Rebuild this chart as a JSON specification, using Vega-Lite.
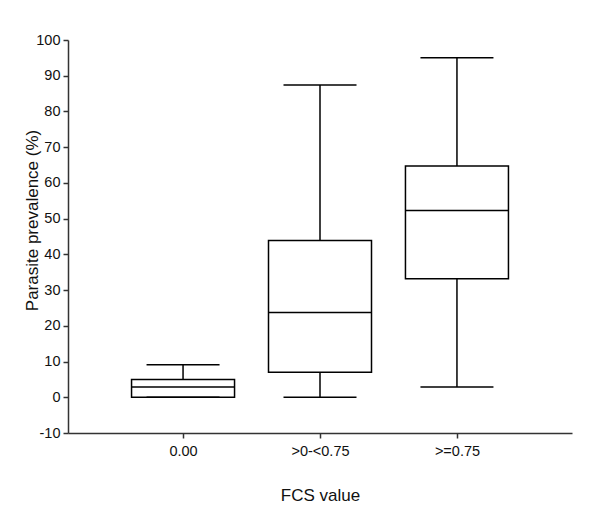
{
  "$schema": "https://vega.github.io/schema/vega-lite/v6.json",
  "autosize": {"type": "none"},
  "padding": {"left": 68, "top": 40, "right": 28, "bottom": 91},
  "width": 504,
  "height": 393,
  "background": "white",
  "config": {
    "view": {"stroke": null},
    "font": "Liberation Sans",
    "axis": {
      "domainColor": "#333333",
      "domainWidth": 1.5,
      "tickColor": "#333333",
      "tickWidth": 1.5,
      "tickSize": 5,
      "labelColor": "#111111",
      "titleColor": "#111111",
      "labelFont": "Liberation Sans",
      "titleFont": "Liberation Sans",
      "titleFontSize": 17,
      "titleFontWeight": "normal",
      "grid": false
    }
  },
  "data": {
    "values": [
      {"fcs": "0.00", "min": 0, "q1": 0, "median": 2.9, "q3": 5.0, "max": 9.1},
      {"fcs": ">0-<0.75", "min": 0, "q1": 7.0, "median": 23.7, "q3": 43.9, "max": 87.4},
      {"fcs": ">=0.75", "min": 2.9, "q1": 33.2, "median": 52.3, "q3": 64.7, "max": 95.0}
    ]
  },
  "encoding": {
    "x": {
      "field": "fcs",
      "type": "nominal",
      "sort": null,
      "scale": {"type": "point", "padding": 0.84},
      "axis": {"title": "FCS value", "labelAngle": 0, "labelFontSize": 14.5, "labelPadding": 6, "titlePadding": 30}
    }
  },
  "layer": [
    {
      "mark": {"type": "rule", "color": "black", "strokeWidth": 1.5},
      "encoding": {
        "y": {
          "field": "min",
          "type": "quantitative",
          "scale": {"domain": [-10, 100], "nice": false, "zero": false},
          "axis": {
            "title": "Parasite prevalence (%)",
            "values": [-10, 0, 10, 20, 30, 40, 50, 60, 70, 80, 90, 100],
            "tickCount": 20,
            "labelExpr": "'' + datum.value",
            "labelOverlap": false,
            "labelFontSize": 14.5,
            "labelPadding": 3,
            "titleX": -36,
            "titleY": 180,
            "titleAngle": -90,
            "titleAlign": "center",
            "titleBaseline": "middle"
          }
        },
        "y2": {"field": "q1"}
      }
    },
    {
      "mark": {"type": "rule", "color": "black", "strokeWidth": 1.5},
      "encoding": {
        "y": {"field": "q3", "type": "quantitative"},
        "y2": {"field": "max"}
      }
    },
    {
      "mark": {"type": "bar", "size": 103, "fill": "white", "stroke": "black", "strokeWidth": 1.5},
      "encoding": {
        "y": {"field": "q1", "type": "quantitative"},
        "y2": {"field": "q3"}
      }
    },
    {
      "mark": {"type": "tick", "size": 103, "thickness": 1.5, "color": "black", "opacity": 1},
      "encoding": {
        "y": {"field": "median", "type": "quantitative"}
      }
    },
    {
      "mark": {"type": "tick", "size": 73, "thickness": 1.5, "color": "black", "opacity": 1},
      "encoding": {
        "y": {"field": "min", "type": "quantitative"}
      }
    },
    {
      "mark": {"type": "tick", "size": 73, "thickness": 1.5, "color": "black", "opacity": 1},
      "encoding": {
        "y": {"field": "max", "type": "quantitative"}
      }
    }
  ]
}
